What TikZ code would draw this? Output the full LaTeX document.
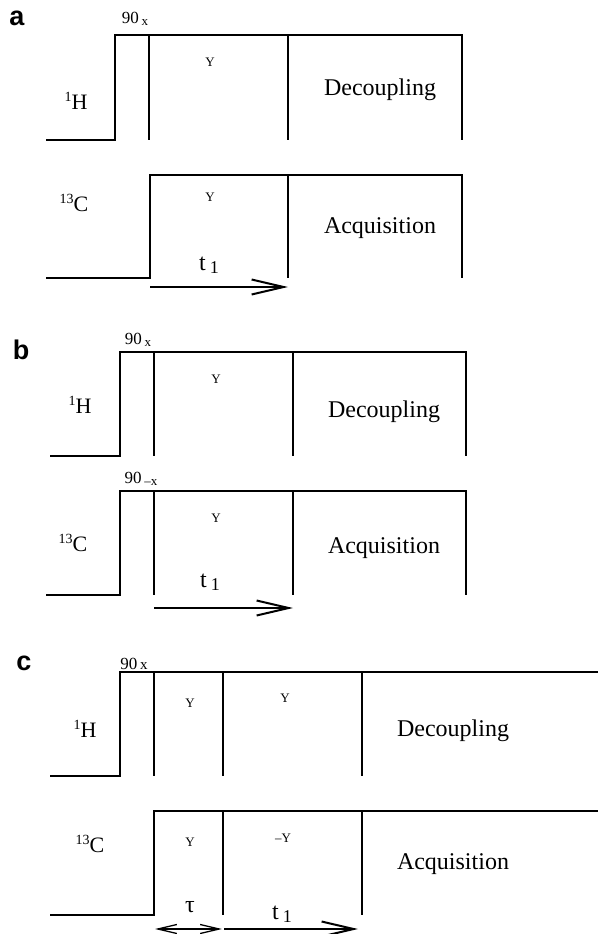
\documentclass[tikz,border=0pt]{standalone}
\usepackage{fontspec}
\setmainfont{Liberation Serif}
\newfontfamily\panelfont{Liberation Sans}
\usetikzlibrary{arrows.meta}
\newcommand\lowsub[1]{\raisebox{-0.3ex}{\fontsize{13}{13}\selectfont #1}}
\newcommand\upsup[1]{\raisebox{0.8ex}{\fontsize{14}{14}\selectfont #1}}
\begin{document}
\begin{tikzpicture}[x=1pt,y=-1pt,
  wave/.style={line width=2.3pt,line join=miter},
  tarrow/.style={line width=2.3pt,-{Straight Barb[length=32pt,width=15pt,line width=2pt]}},
  tdarrow/.style={line width=1.4pt,{Straight Barb[length=19pt,width=9pt,line width=1.3pt]}-{Straight Barb[length=19pt,width=9pt,line width=1.3pt]}},
  panel/.style={font=\panelfont\bfseries\fontsize{27}{27}\selectfont,inner sep=0pt},
  big/.style={font=\fontsize{24}{24}\selectfont,inner sep=0pt},
  nuc/.style={font=\fontsize{22}{22}\selectfont,inner sep=0pt},
  phase/.style={font=\fontsize{13}{13}\selectfont,inner sep=0pt},
  pulse/.style={font=\fontsize{17}{17}\selectfont,inner sep=0pt},
  tlab/.style={font=\fontsize{24}{24}\selectfont,inner sep=0pt}]
\useasboundingbox (0,0) rectangle (598,934);

% ---------------- panel a ----------------
\node[panel] (pa) at (17,18) {a};
\draw[wave] (46,140) -- (115,140) -- (115,35) -- (462,35) -- (462,140);
\draw[wave] (149,35) -- (149,140);
\draw[wave] (288,35) -- (288,140);
\node[pulse] (a90) at (135,19) {90\,\lowsub{x}};
\node[phase] (aY1) at (210,62) {Y};
\node[nuc] (aH) at (76,101) {\upsup{1}H};
\node[big] (aDec) at (380,90) {Decoupling};
\draw[wave] (46,278) -- (150,278) -- (150,175) -- (462,175) -- (462,278);
\draw[wave] (288,175) -- (288,278);
\node[phase] (aY2) at (210,197) {Y};
\node[nuc] (aC) at (74,203) {\upsup{13}C};
\node[big] (aAcq) at (380,228) {Acquisition};
\node[tlab] (at1) at (209,265) {t\,\lowsub{\fontsize{18}{18}\selectfont 1}};
\coordinate (aA1) at (150,287);
\coordinate (aA2) at (288,287);
\draw[tarrow] (aA1) -- (aA2);

% ---------------- panel b ----------------
\node[panel] (pb) at (21,350) {b};
\draw[wave] (50,456) -- (120,456) -- (120,352) -- (466,352) -- (466,456);
\draw[wave] (154,352) -- (154,456);
\draw[wave] (293,352) -- (293,456);
\node[pulse] (b90) at (138,340) {90\,\lowsub{x}};
\node[phase] (bY1) at (216,379) {Y};
\node[nuc] (bH) at (80,405) {\upsup{1}H};
\node[big] (bDec) at (384,412) {Decoupling};
\draw[wave] (46,595) -- (120,595) -- (120,491) -- (466,491) -- (466,595);
\draw[wave] (154,491) -- (154,595);
\draw[wave] (293,491) -- (293,595);
\node[pulse] (b90m) at (141,479) {90\,\lowsub{--x}};
\node[phase] (bY2) at (216,518) {Y};
\node[nuc] (bC) at (73,543) {\upsup{13}C};
\node[big] (bAcq) at (384,548) {Acquisition};
\node[tlab] (bt1) at (210,582) {t\,\lowsub{\fontsize{18}{18}\selectfont 1}};
\coordinate (bA1) at (154,608);
\coordinate (bA2) at (293,608);
\draw[tarrow] (bA1) -- (bA2);

% ---------------- panel c ----------------
\node[panel] (pc) at (24,663) {c};
\draw[wave] (50,776) -- (120,776) -- (120,672) -- (598,672);
\draw[wave] (154,672) -- (154,776);
\draw[wave] (223,672) -- (223,776);
\draw[wave] (362,672) -- (362,776);
\node[pulse] (c90) at (134,664) {90\,{\fontsize{15}{15}\selectfont x}};
\node[phase] (cY1) at (190,703) {Y};
\node[phase] (cY2) at (285,698) {Y};
\node[nuc] (cH) at (85,729) {\upsup{1}H};
\node[big] (cDec) at (453,731) {Decoupling};
\draw[wave] (50,915) -- (154,915) -- (154,811) -- (598,811);
\draw[wave] (223,811) -- (223,915);
\draw[wave] (362,811) -- (362,915);
\node[phase] (cY3) at (190,842) {Y};
\node[phase] (cY4) at (283,838) {--Y};
\node[nuc] (cC) at (90,844) {\upsup{13}C};
\node[big] (cAcq) at (453,864) {Acquisition};
\node[tlab] (ctau) at (190,907) {τ};
\node[tlab] (ct1) at (282,914) {t\,\lowsub{\fontsize{18}{18}\selectfont 1}};
\coordinate (cA1) at (155,929);
\coordinate (cA2) at (222,929);
\coordinate (cA3) at (224,929);
\coordinate (cA4) at (358,929);
\draw[tdarrow] (cA1) -- (cA2);
\draw[tarrow] (cA3) -- (cA4);
\end{tikzpicture}
\end{document}
